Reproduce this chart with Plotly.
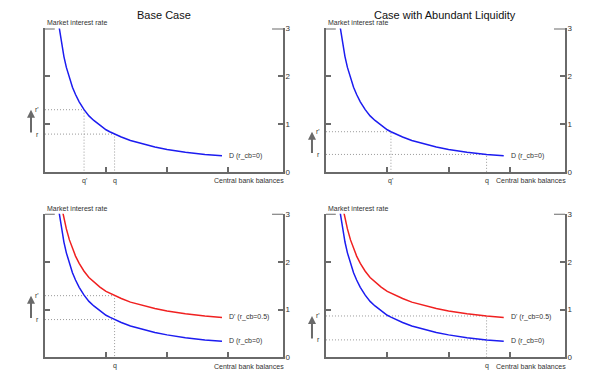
import plotly.graph_objects as go

# ---------------- data ----------------
panel_titles = ["Base Case", "Case with Abundant Liquidity"]

x_D = [0.23, 0.25, 0.28, 0.31, 0.35, 0.40, 0.45, 0.50, 0.56, 0.64, 0.72, 0.80,
       0.90, 1.00, 1.06, 1.14, 1.25, 1.40, 1.60, 1.80, 2.00, 2.30, 2.62, 2.90]
r_D = [3.04, 2.855, 2.614, 2.411, 2.185, 1.956, 1.770, 1.617, 1.464, 1.301, 1.170, 1.075,
       0.97, 0.88, 0.84, 0.79, 0.73, 0.655, 0.58, 0.52, 0.47, 0.41, 0.365, 0.335]

x_Dp = [0.29, 0.31, 0.35, 0.40, 0.45, 0.50, 0.56, 0.64, 0.72, 0.80, 0.90, 1.00,
        1.06, 1.14, 1.25, 1.40, 1.60, 1.80, 2.00, 2.30, 2.62, 2.90]
r_Dp = [3.04, 2.911, 2.685, 2.456, 2.27, 2.117, 1.964, 1.801, 1.67, 1.575, 1.47, 1.38,
        1.34, 1.29, 1.23, 1.155, 1.08, 1.02, 0.97, 0.91, 0.865, 0.835]

# reference points per panel: (q', r', q, r)
base_top = dict(q_prime=0.64, r_prime=1.30, q=1.14, r=0.79)
abund_top = dict(q_prime=1.06, r_prime=0.84, q=2.62, r=0.365)
base_bot = dict(q=1.14, r=0.79, r_prime=1.29)
abund_bot = dict(q=2.62, r=0.365, r_prime=0.865)

y_ticks = [0, 1, 2, 3]
x_ticks = [0, 1, 2, 3]
X_MAX = 3.9
Y_MAX = 3

label_D = "D (r_cb=0)"
label_Dp = "D' (r_cb=0.5)"
x_title = "Central bank balances"
y_title = "Market interest rate"

# ---------------- styling ----------------
AX_COL = "#6a6a6a"
TXT_COL = "#333333"
DOT_COL = "#9a9a9a"
BLUE = "#1c1cf0"
RED = "#f02020"
FONT = "Liberation Sans, Arial, sans-serif"

x_domains = [[0.075, 0.4717], [0.5433, 0.9417], [0.075, 0.4717], [0.5433, 0.9417]]
y_domains = [[0.5438, 0.9337], [0.5438, 0.9337], [0.0398, 0.4297], [0.0398, 0.4297]]

fig = go.Figure()
layout = dict(width=600, height=377, margin=dict(l=0, r=0, t=0, b=0),
              paper_bgcolor="white", plot_bgcolor="white", showlegend=False,
              font=dict(family=FONT, color=TXT_COL, size=7))
annotations = []
shapes = []

for i in range(4):
    n = "" if i == 0 else str(i + 1)
    xa, ya = "x" + n, "y" + n
    layout["xaxis" + n] = dict(domain=x_domains[i], anchor=ya, range=[0, X_MAX],
                               showline=True, linecolor=AX_COL, linewidth=2,
                               ticks="inside", ticklen=5, tickwidth=2, tickcolor=AX_COL,
                               tickvals=x_ticks, showticklabels=False,
                               showgrid=False, zeroline=False, fixedrange=True)
    layout["yaxis" + n] = dict(domain=y_domains[i], anchor=xa, range=[0, Y_MAX],
                               side="right", mirror="ticks",
                               showline=True, linecolor=AX_COL, linewidth=2,
                               ticks="inside", ticklen=5, tickwidth=2, tickcolor=AX_COL,
                               tickvals=y_ticks, ticktext=[str(v) for v in y_ticks],
                               tickfont=dict(size=8, color=TXT_COL, family=FONT),
                               ticklabelstandoff=-1,
                               showgrid=False, zeroline=False, fixedrange=True)
    # top caps on both vertical axes
    shapes.append(dict(type="line", xref=xa, yref=ya, x0=0, x1=0.16, y0=Y_MAX, y1=Y_MAX,
                       line=dict(color=AX_COL, width=2)))
    shapes.append(dict(type="line", xref=xa, yref=ya, x0=X_MAX - 0.18, x1=X_MAX, y0=Y_MAX, y1=Y_MAX,
                       line=dict(color=AX_COL, width=2)))

    # axis titles
    top = i < 2
    dom = x_domains[i]
    annotations.append(dict(text=y_title, xref="paper", yref="paper", x=dom[0],
                            y=0.9496 if top else 0.4456, xanchor="left", yanchor="middle",
                            showarrow=False, font=dict(size=7, color=TXT_COL)))
    annotations.append(dict(text=x_title, xref="paper", yref="paper", x=dom[1] + 0.005,
                            y=0.52 if top else 0.016, xanchor="right", yanchor="middle",
                            showarrow=False, font=dict(size=7, color=TXT_COL)))

def dotted(xa, ya, xs, ys):
    fig.add_trace(go.Scatter(x=xs, y=ys, xaxis=xa, yaxis=ya, mode="lines",
                             line=dict(color=DOT_COL, width=1, dash="1px,2px"), hoverinfo="skip"))

def curve(xa, ya, xs, ys, col):
    fig.add_trace(go.Scatter(x=xs, y=ys, xaxis=xa, yaxis=ya, mode="lines",
                             line=dict(color=col, width=1.5), hoverinfo="skip"))

def label_end(xa, ya, xs, ys, txt):
    annotations.append(dict(text=txt, xref=xa, yref=ya, x=xs[-1], y=ys[-1], xanchor="left",
                            yanchor="middle", xshift=5, showarrow=False,
                            font=dict(size=7, color=TXT_COL)))

def r_label(xa, ya, val, txt):
    annotations.append(dict(text=txt, xref=xa, yref=ya, x=0, y=val, xanchor="right",
                            yanchor="middle", xshift=-4, showarrow=False,
                            font=dict(size=7, color=TXT_COL)))

def q_label(xa, ya, val, txt):
    annotations.append(dict(text=txt, xref=xa, yref=ya, x=val, y=0, xanchor="center",
                            yanchor="middle", yshift=-9, showarrow=False,
                            font=dict(size=7, color=TXT_COL)))

def arrow(xa, ya, lo, hi):
    annotations.append(dict(text="", xref=xa, yref=ya, x=0, y=hi, axref=xa, ayref=ya,
                            ax=0, ay=lo, xshift=-14, showarrow=True, arrowhead=2,
                            arrowsize=0.8, arrowwidth=2, arrowcolor=AX_COL))

# ---- panel 1: Base case ----
p = base_top
dotted("x", "y", [0, p["q_prime"], p["q_prime"]], [p["r_prime"], p["r_prime"], 0])
dotted("x", "y", [0, p["q"], p["q"]], [p["r"], p["r"], 0])
curve("x", "y", x_D, r_D, BLUE)
label_end("x", "y", x_D, r_D, label_D)
r_label("x", "y", p["r_prime"], "r'")
r_label("x", "y", p["r"], "r")
q_label("x", "y", p["q_prime"], "q'")
q_label("x", "y", p["q"], "q")
arrow("x", "y", p["r"], p["r_prime"])

# ---- panel 2: Abundant liquidity ----
p = abund_top
dotted("x2", "y2", [0, p["q_prime"], p["q_prime"]], [p["r_prime"], p["r_prime"], 0])
dotted("x2", "y2", [0, p["q"], p["q"]], [p["r"], p["r"], 0])
curve("x2", "y2", x_D, r_D, BLUE)
label_end("x2", "y2", x_D, r_D, label_D)
r_label("x2", "y2", p["r_prime"], "r'")
r_label("x2", "y2", p["r"], "r")
q_label("x2", "y2", p["q_prime"], "q'")
q_label("x2", "y2", p["q"], "q")
arrow("x2", "y2", p["r"], p["r_prime"])

# ---- panel 3: Base case with r_cb ----
p = base_bot
dotted("x3", "y3", [0, p["q"], p["q"]], [p["r_prime"], p["r_prime"], 0])
dotted("x3", "y3", [0, p["q"]], [p["r"], p["r"]])
curve("x3", "y3", x_D, r_D, BLUE)
curve("x3", "y3", x_Dp, r_Dp, RED)
label_end("x3", "y3", x_D, r_D, label_D)
label_end("x3", "y3", x_Dp, r_Dp, label_Dp)
r_label("x3", "y3", p["r_prime"], "r'")
r_label("x3", "y3", p["r"], "r")
q_label("x3", "y3", p["q"], "q")
arrow("x3", "y3", p["r"], p["r_prime"])

# ---- panel 4: Abundant liquidity with r_cb ----
p = abund_bot
dotted("x4", "y4", [0, p["q"], p["q"]], [p["r_prime"], p["r_prime"], 0])
dotted("x4", "y4", [0, p["q"]], [p["r"], p["r"]])
curve("x4", "y4", x_D, r_D, BLUE)
curve("x4", "y4", x_Dp, r_Dp, RED)
label_end("x4", "y4", x_D, r_D, label_D)
label_end("x4", "y4", x_Dp, r_Dp, label_Dp)
r_label("x4", "y4", p["r_prime"], "r'")
r_label("x4", "y4", p["r"], "r")
q_label("x4", "y4", p["q"], "q")
arrow("x4", "y4", p["r"], p["r_prime"])

# ---- titles ----
for j, t in enumerate(panel_titles):
    dom = x_domains[j]
    annotations.append(dict(text=t, xref="paper", yref="paper", x=(dom[0] + dom[1]) / 2,
                            y=0.9708, xanchor="center", yanchor="middle", showarrow=False,
                            font=dict(size=11, color="#111111", family=FONT)))

layout["annotations"] = annotations
layout["shapes"] = shapes
fig.update_layout(**layout)
fig.write_html("out.html", config={"displayModeBar": False},
               post_script="document.body.style.margin='0px';document.body.style.overflow='hidden';")
